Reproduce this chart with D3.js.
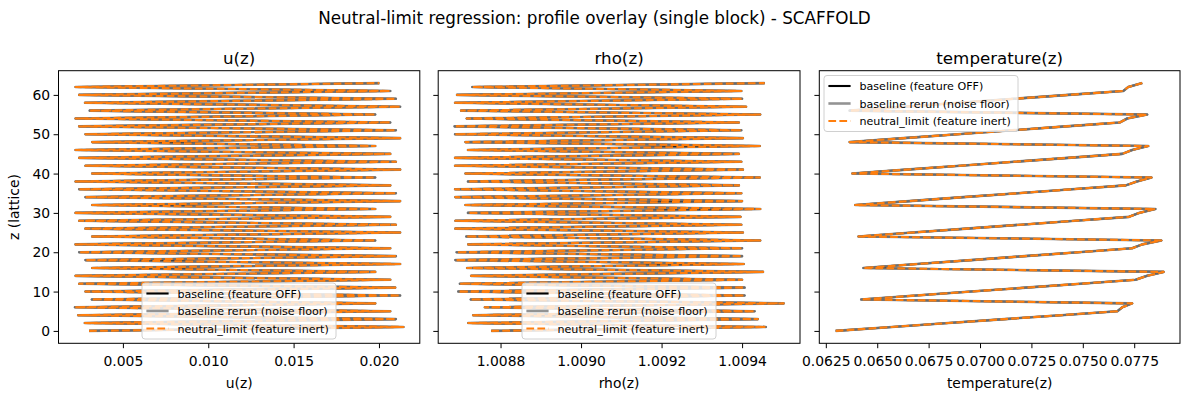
<!DOCTYPE html>
<html>
<head>
<meta charset="utf-8">
<script src="https://cdn.jsdelivr.net/npm/d3@7"></script>
<style>
  html, body { margin: 0; padding: 0; background: #fff; }
  svg { display: block; font-family: "DejaVu Sans", sans-serif; }
</style>
</head>
<body>
<div id="chart"></div>
<script>
// lattice levels
const zLevels = [0, 1, 2, 3, 4, 5, 6, 7, 8, 9, 10, 11, 12, 13, 14, 15,
  16, 17, 18, 19, 20, 21, 22, 23, 24, 25, 26, 27, 28, 29, 30, 31,
  32, 33, 34, 35, 36, 37, 38, 39, 40, 41, 42, 43, 44, 45, 46, 47,
  48, 49, 50, 51, 52, 53, 54, 55, 56, 57, 58, 59, 60, 61, 62, 63]

// profiles (baseline, rerun and neutral_limit overlap)
const uValues = [
  0.00302, 0.02143, 0.00277, 0.02099, 0.00238, 0.02066, 0.00219, 0.01978,
  0.00318, 0.02124, 0.00281, 0.02095, 0.00244, 0.02066, 0.00223, 0.01978,
  0.00320, 0.02124, 0.00281, 0.02099, 0.00244, 0.02066, 0.00223, 0.01978,
  0.00320, 0.02124, 0.00281, 0.02099, 0.00244, 0.02066, 0.00223, 0.01978,
  0.00320, 0.02124, 0.00281, 0.02099, 0.00244, 0.02066, 0.00223, 0.01978,
  0.00320, 0.02124, 0.00281, 0.02099, 0.00244, 0.02066, 0.00223, 0.01978,
  0.00320, 0.02124, 0.00281, 0.02099, 0.00244, 0.02066, 0.00223, 0.01978,
  0.00306, 0.02124, 0.00278, 0.02099, 0.00244, 0.02066, 0.00223, 0.02002
]

const rhoValues = [
  1.008777, 1.009459, 1.008720, 1.009439, 1.008732, 1.009431, 1.008761, 1.009503,
  1.008726, 1.009406, 1.008695, 1.009406, 1.008699, 1.009400, 1.008727, 1.009452,
  1.008717, 1.009404, 1.008688, 1.009400, 1.008691, 1.009400, 1.008720, 1.009445,
  1.008715, 1.009402, 1.008688, 1.009398, 1.008688, 1.009396, 1.008719, 1.009445,
  1.008713, 1.009400, 1.008688, 1.009398, 1.008687, 1.009392, 1.008719, 1.009444,
  1.008713, 1.009402, 1.008687, 1.009398, 1.008687, 1.009392, 1.008719, 1.009444,
  1.008713, 1.009402, 1.008687, 1.009398, 1.008686, 1.009392, 1.008716, 1.009445,
  1.008702, 1.009410, 1.008687, 1.009400, 1.008692, 1.009398, 1.008730, 1.009456
]

const tempValues = [
  0.06298, 0.06572, 0.06846, 0.07120, 0.07394, 0.07668, 0.07692, 0.07740,
  0.06422, 0.06689, 0.06956, 0.07223, 0.07490, 0.07757, 0.07813, 0.07893,
  0.06433, 0.06694, 0.06956, 0.07217, 0.07479, 0.07740, 0.07789, 0.07882,
  0.06409, 0.06672, 0.06935, 0.07199, 0.07462, 0.07725, 0.07773, 0.07853,
  0.06393, 0.06656, 0.06919, 0.07183, 0.07446, 0.07709, 0.07763, 0.07834,
  0.06379, 0.06642, 0.06904, 0.07167, 0.07429, 0.07692, 0.07740, 0.07818,
  0.06366, 0.06629, 0.06892, 0.07155, 0.07418, 0.07681, 0.07716, 0.07813,
  0.06366, 0.06632, 0.06898, 0.07165, 0.07431, 0.07697, 0.07721, 0.07789
]

const uTicks = [0.005, 0.010, 0.015, 0.020]
const rhoTicks = [1.0088, 1.0090, 1.0092, 1.0094]
const tempTicks = [0.0625, 0.0650, 0.0675, 0.0700, 0.0725, 0.0750, 0.0775]
const zTicks = [0, 10, 20, 30, 40, 50, 60]

const seriesNames = ['baseline (feature OFF)', 'baseline rerun (noise floor)', 'neutral_limit (feature inert)']

const W = 1189, H = 397
const plotTop = 70.7, plotBottom = 343.3
const tickLen = 4.9

const seriesStyle = [
  { color: '#000000', width: 2.1, dash: null, opacity: 1 },
  { color: '#808080', width: 2.6, dash: null, opacity: 0.85 },
  { color: '#ff7f0e', width: 2.1, dash: '7.7,3.3', opacity: 1 }
]

const svg = d3.select('#chart').append('svg')
  .attr('width', W)
  .attr('height', H)

svg.append('text')
  .attr('x', W / 2)
  .attr('y', 24)
  .attr('text-anchor', 'middle')
  .attr('font-size', 16.8)
  .text('Neutral-limit regression: profile overlay (single block) - SCAFFOLD')

function pad (ext) {
  const m = (ext[1] - ext[0]) * 0.05
  return [ext[0] - m, ext[1] + m]
}

const y = d3.scaleLinear().domain(pad(d3.extent(zLevels))).range([plotBottom, plotTop])

function drawPanel (o) {
  const x = d3.scaleLinear().domain(pad(d3.extent(o.values))).range([o.left, o.right])
  const g = svg.append('g')

  const line = d3.line()
    .x((d, i) => x(o.values[i]))
    .y(d => y(d))

  seriesStyle.forEach(s => {
    g.append('path')
      .datum(zLevels)
      .attr('d', line)
      .attr('fill', 'none')
      .attr('stroke', s.color)
      .attr('stroke-width', s.width)
      .attr('stroke-opacity', s.opacity)
      .attr('stroke-dasharray', s.dash)
      .attr('stroke-linejoin', 'round')
  })

  // axes
  const xAxis = g.append('g')
    .attr('transform', `translate(0,${plotBottom})`)
    .call(d3.axisBottom(x).tickValues(o.ticks).tickFormat(d3.format(o.fmt)).tickSize(tickLen).tickPadding(7.5))
  const yAxis = g.append('g')
    .attr('transform', `translate(${o.left},0)`)
    .call(d3.axisLeft(y).tickValues(zTicks).tickFormat(o.yLabels ? d3.format('d') : '').tickSize(tickLen).tickPadding(3.5))

  for (const a of [xAxis, yAxis]) {
    a.select('.domain').remove()
    a.selectAll('.tick line').attr('stroke', '#000').attr('stroke-width', 1)
    a.selectAll('.tick text').attr('font-size', 13.9).attr('fill', '#000')
      .attr('font-family', '"DejaVu Sans", sans-serif')
  }

  g.append('rect')
    .attr('x', o.left).attr('y', plotTop)
    .attr('width', o.right - o.left).attr('height', plotBottom - plotTop)
    .attr('fill', 'none').attr('stroke', '#000').attr('stroke-width', 1)

  g.append('text')
    .attr('x', (o.left + o.right) / 2).attr('y', 64)
    .attr('text-anchor', 'middle').attr('font-size', 16.7)
    .text(o.title)

  g.append('text')
    .attr('x', (o.left + o.right) / 2).attr('y', 388)
    .attr('text-anchor', 'middle').attr('font-size', 13.9)
    .text(o.title)

  if (o.yLabels) {
    g.append('text')
      .attr('transform', `translate(19,${(plotTop + plotBottom) / 2}) rotate(-90)`)
      .attr('text-anchor', 'middle').attr('font-size', 13.9)
      .text('z (lattice)')
  }

  // legend
  const lg = g.append('g').attr('transform', `translate(${o.legend[0]},${o.legend[1]})`)
  lg.append('rect')
    .attr('width', 194).attr('height', 56).attr('rx', 3)
    .attr('fill', '#fff').attr('fill-opacity', 0.8)
    .attr('stroke', '#d0d0d0').attr('stroke-width', 1)
  seriesNames.forEach((name, i) => {
    const ry = 10.5 + i * 17.5
    const s = seriesStyle[i]
    lg.append('line')
      .attr('x1', 4.4).attr('x2', 26.6).attr('y1', ry).attr('y2', ry)
      .attr('stroke', s.color).attr('stroke-width', s.width)
      .attr('stroke-opacity', s.opacity)
      .attr('stroke-dasharray', s.dash)
    lg.append('text')
      .attr('x', 35.5).attr('y', ry + 4)
      .attr('font-size', 11.1)
      .text(name)
  })
}

drawPanel({ values: uValues, left: 58.5, right: 419.8, ticks: uTicks, fmt: '.3f', title: 'u(z)', yLabels: true, legend: [142, 283] })
drawPanel({ values: rhoValues, left: 438.2, right: 800, ticks: rhoTicks, fmt: '.4f', title: 'rho(z)', yLabels: false, legend: [522, 283] })
drawPanel({ values: tempValues, left: 819.3, right: 1180, ticks: tempTicks, fmt: '.4f', title: 'temperature(z)', yLabels: false, legend: [824, 75.5] })
</script>
</body>
</html>
